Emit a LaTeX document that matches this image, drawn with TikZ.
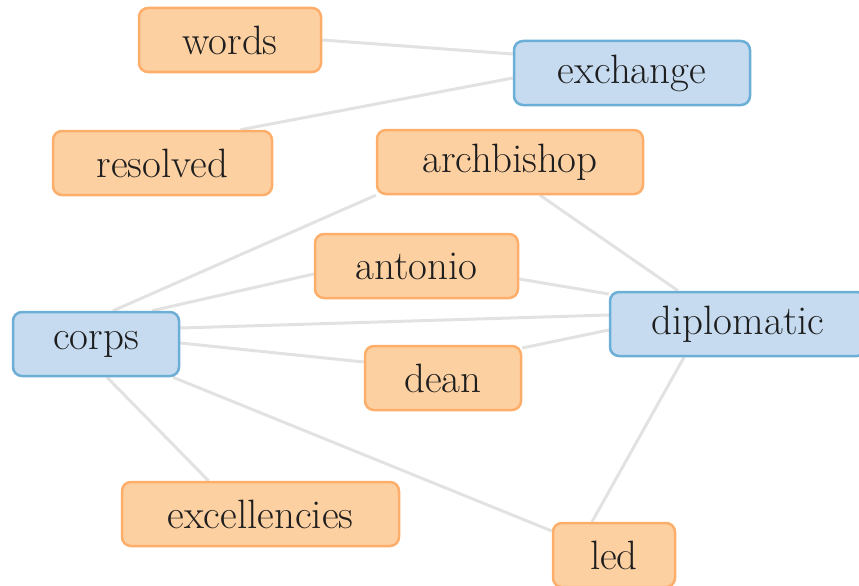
\documentclass[tikz,border=0pt]{standalone}
\usetikzlibrary{calc,backgrounds}
\definecolor{ofill}{HTML}{FDD0A2}
\definecolor{odraw}{HTML}{FDAE6B}
\definecolor{bfill}{HTML}{C6DBEF}
\definecolor{bdraw}{HTML}{6BAED6}
\definecolor{edgec}{HTML}{E2E2E2}
\definecolor{txt}{HTML}{1E1E1E}
\tikzset{
  box/.style={rectangle, rounded corners=9pt, line width=2.5pt, minimum height=64pt, inner sep=0pt, text=txt, font=\fontsize{41}{48}\selectfont},
  obox/.style={box, fill=ofill, draw=odraw},
  bbox/.style={box, fill=bfill, draw=bdraw},
  link/.style={draw=edgec, line width=3pt}
}
\begin{document}
\begin{tikzpicture}[x=1pt,y=-1pt]
\useasboundingbox (0,0) rectangle (859,586);
\node[obox, minimum width=182pt] (words) at (230,40) {words};
\node[bbox, minimum width=236pt] (exchange) at (632,73) {exchange};
\node[obox, minimum width=219pt] (resolved) at (162.5,163) {resolved};
\node[obox, minimum width=266pt] (archbishop) at (510,162) {archbishop};
\node[obox, minimum width=203pt] (antonio) at (416.5,266) {antonio};
\node[bbox, minimum width=256pt] (diplomatic) at (738,324) {diplomatic};
\node[bbox, minimum width=166pt] (corps) at (96,344) {corps};
\node[obox, minimum width=156pt] (dean) at (443,378) {dean};
\node[obox, minimum width=277pt] (excellencies) at (260.5,514) {excellencies};
\node[obox, minimum width=122pt] (led) at (614,555) {led};
\begin{scope}[on background layer]
\draw[link] (words.east) -- ($(exchange.west)+(0,-19)$);
\draw[link] ($(resolved.north)+(78,0)$) -- ($(exchange.west)+(0,5)$);
\draw[link] ($(corps.north)+(17,0)$) -- (archbishop.south west);
\draw[link] ($(corps.north)+(56,0)$) -- ($(antonio.west)+(0,8)$);
\draw[link] ($(archbishop.south)+(30,0)$) -- ($(diplomatic.north)+(-60,0)$);
\draw[link] ($(antonio.east)+(0,13)$) -- ($(diplomatic.west)+(0,-30)$);
\draw[link] ($(corps.east)+(0,-16)$) -- ($(diplomatic.west)+(0,-9)$);
\draw[link] ($(corps.east)+(0,-1)$) -- ($(dean.west)+(0,-16)$);
\draw[link] ($(dean.east)+(0,-30)$) -- ($(diplomatic.west)+(0,6)$);
\draw[link] ($(corps.south)+(11,0)$) -- ($(excellencies.north)+(-52,0)$);
\draw[link] ($(corps.south)+(77,0)$) -- ($(led.west)+(0,-24)$);
\draw[link] ($(led.north)+(-22,0)$) -- ($(diplomatic.south)+(-54,0)$);
\end{scope}
\end{tikzpicture}
\end{document}
